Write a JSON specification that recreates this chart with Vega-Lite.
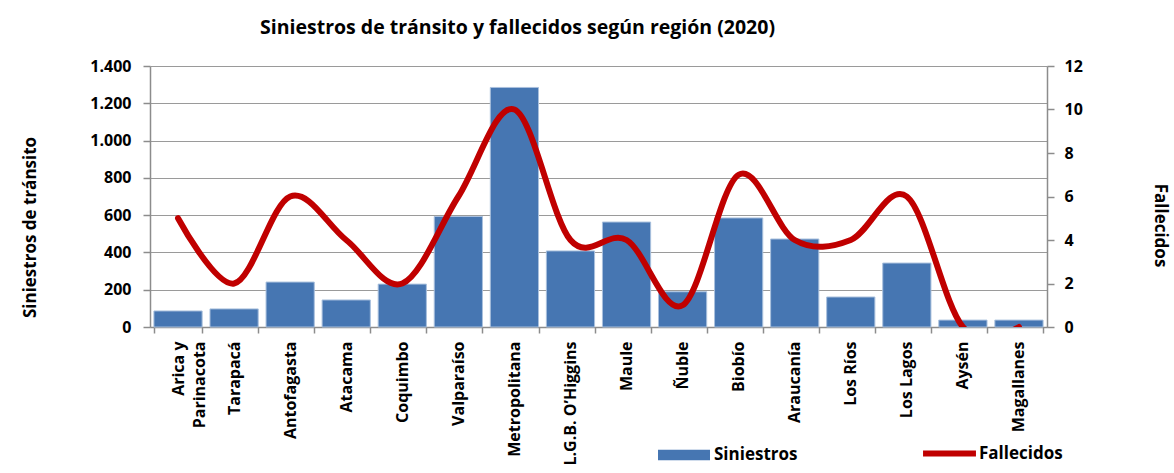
{
  "$schema": "https://vega.github.io/schema/vega-lite/v6.json",
  "autosize": "none",
  "width": 897,
  "height": 261,
  "padding": {"left": 150, "top": 66, "right": 127, "bottom": 146},
  "background": "white",
  "title": {
    "text": "Siniestros de tránsito y fallecidos según región (2020)",
    "anchor": "middle",
    "frame": "group",
    "dx": -81,
    "offset": 20,
    "font": "Open Sans",
    "fontSize": 19.5,
    "fontWeight": "bold",
    "color": "black"
  },
  "config": {
    "view": {"stroke": null},
    "font": "Open Sans",
    "axis": {
      "labelFont": "Open Sans",
      "labelFontSize": 16,
      "labelFontWeight": "bold",
      "labelColor": "black",
      "titleFont": "Open Sans",
      "titleFontSize": 17,
      "titleFontWeight": "bold",
      "titleColor": "black",
      "domainColor": "#8c8c8c",
      "tickColor": "#8c8c8c",
      "gridColor": "#9a9a9a",
      "domainWidth": 1.5,
      "tickWidth": 1.5
    },
    "legend": {"labelFont": "Open Sans", "labelFontSize": 17, "labelFontWeight": "bold", "labelColor": "black"}
  },
  "data": {
    "values": [
      {"region": "Arica y Parinacota", "siniestros": 86, "fallecidos": 5},
      {"region": "Tarapacá", "siniestros": 97, "fallecidos": 2},
      {"region": "Antofagasta", "siniestros": 241, "fallecidos": 6},
      {"region": "Atacama", "siniestros": 145, "fallecidos": 4},
      {"region": "Coquimbo", "siniestros": 230, "fallecidos": 2},
      {"region": "Valparaíso", "siniestros": 593, "fallecidos": 6},
      {"region": "Metropolitana", "siniestros": 1285, "fallecidos": 10},
      {"region": "L.G.B. O’Higgins", "siniestros": 408, "fallecidos": 4},
      {"region": "Maule", "siniestros": 563, "fallecidos": 4},
      {"region": "Ñuble", "siniestros": 189, "fallecidos": 1},
      {"region": "Biobío", "siniestros": 585, "fallecidos": 7},
      {"region": "Araucanía", "siniestros": 472, "fallecidos": 4},
      {"region": "Los Ríos", "siniestros": 161, "fallecidos": 4},
      {"region": "Los Lagos", "siniestros": 343, "fallecidos": 6},
      {"region": "Aysén", "siniestros": 37, "fallecidos": 0},
      {"region": "Magallanes", "siniestros": 37, "fallecidos": 0}
    ]
  },
  "encoding": {
    "x": {
      "field": "region",
      "type": "nominal",
      "sort": null,
      "scale": {"paddingInner": 0.14, "paddingOuter": 0.07},
      "axis": {
        "title": null,
        "labelAngle": -90,
        "labelPadding": 8,
        "tickBand": "extent",
        "tickSize": 6,
        "labelExpr": "datum.label == 'Arica y Parinacota' ? ['Arica y', 'Parinacota'] : datum.label",
        "labelLineHeight": 21
      }
    }
  },
  "layer": [
    {
      "mark": {"type": "bar", "stroke": "#a9c0dd", "strokeWidth": 1},
      "encoding": {
        "y": {
          "field": "siniestros",
          "type": "quantitative",
          "scale": {"domain": [0, 1400]},
          "axis": {
            "title": "Siniestros de tránsito",
            "values": [0, 200, 400, 600, 800, 1000, 1200, 1400],
            "labelExpr": "replace(format(datum.value, ','), ',', '.')",
            "labelPadding": 12,
            "tickSize": 7,
            "grid": true,
            "titleX": -111,
            "titleY": 161
          }
        },
        "fill": {
          "datum": "Siniestros",
          "scale": {"range": ["#4676b2"]},
          "legend": {
            "title": null,
            "orient": "none",
            "legendX": 508,
            "legendY": 363,
            "symbolType": "M-1,-0.2H1V0.2H-1Z",
            "symbolSize": 2704,
            "symbolStrokeWidth": 0,
            "labelOffset": 4
          }
        }
      }
    },
    {
      "mark": {"type": "line", "interpolate": "cardinal", "strokeWidth": 6, "color": "#c00000", "clip": true, "strokeCap": "round"},
      "encoding": {
        "y": {
          "field": "fallecidos",
          "type": "quantitative",
          "scale": {"domain": [0, 12]},
          "axis": {
            "orient": "right",
            "title": "Fallecidos",
            "values": [0, 2, 4, 6, 8, 10, 12],
            "labelPadding": 10,
            "tickSize": 7,
            "grid": false,
            "titleX": 103,
            "titleY": 159
          }
        },
        "stroke": {
          "datum": "Fallecidos",
          "scale": {"range": ["#c00000"]},
          "legend": {
            "title": null,
            "orient": "none",
            "legendX": 770,
            "legendY": 358,
            "symbolType": "stroke",
            "symbolSize": 2800,
            "symbolStrokeWidth": 6,
            "labelOffset": 0
          }
        }
      }
    }
  ],
  "resolve": {"scale": {"y": "independent", "fill": "independent", "stroke": "independent"}}
}
